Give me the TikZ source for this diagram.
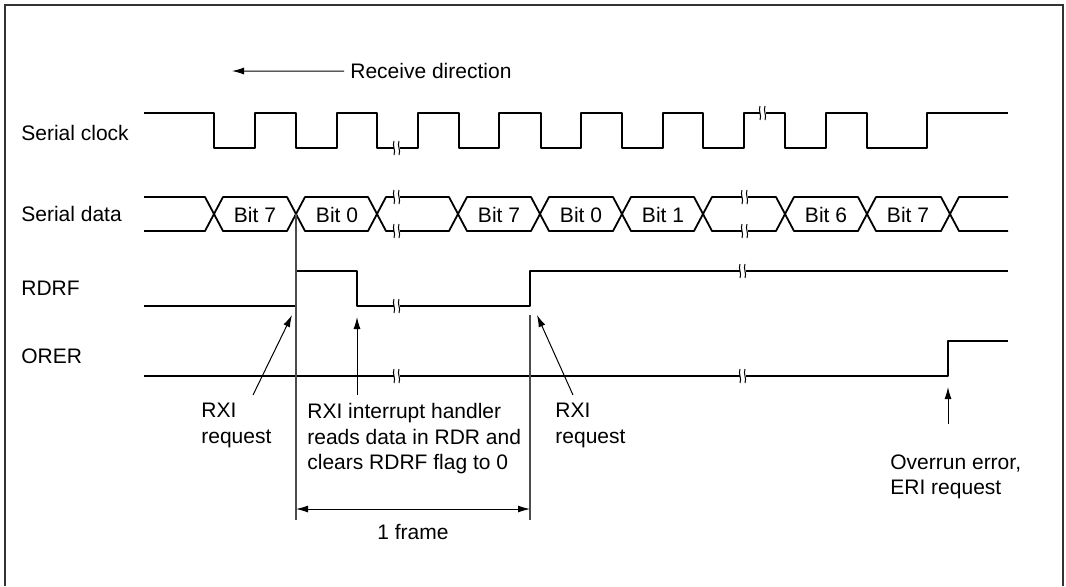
\documentclass[tikz,border=0pt]{standalone}
\usepackage{fontspec}
\setmainfont{Liberation Sans}
\usetikzlibrary{arrows.meta}

\tikzset{
  sig/.style={line width=0.9pt, line join=round},
  guide/.style={line width=0.6pt, black!70},
  note/.style={line width=0.5pt, -{Latex[length=6pt,width=3.5pt]}},
  lbl/.style={inner sep=0pt, anchor=base west},
  notetext/.style={inner sep=0pt, anchor=north west, align=left},
  brk/.pic={
    \fill[white] (-3,-3) rectangle (3,3);
    \draw[line width=0.5pt] (-3,-7) .. controls (-5,-2) and (-1,2) .. (-3,7);
    \draw[line width=0.5pt] (2,-7) .. controls (0,-2) and (4,2) .. (2,7);
  }
}

\begin{document}
\begin{tikzpicture}[x=0.5pt,y=-0.5pt,font=\fontsize{10.5}{12.8}\selectfont]
\useasboundingbox (0,0) rectangle (1066,586);
\draw[line width=1pt, black!80] (5,586) -- (5,5) -- (1063,5) -- (1063,586);

\node[lbl] (dirTxt) at (350,78.5) {Receive direction};
\coordinate (dirTip) at (232,71);
\draw[note] ([xshift=-3pt]dirTxt.west) -- (dirTip);

\node[lbl] (clkTxt) at (21,140) {Serial clock};
\node[lbl] (dataTxt) at (21,221.5) {Serial data};
\node[lbl] (rdrfTxt) at (21,295) {RDRF};
\node[lbl] (orerTxt) at (21,363) {ORER};

\draw[sig] (144,113) -| (214,148) -| (255,113) -| (296,148) -| (337,113) -| (377,148)
  -| (418,113) -| (459,148) -| (499,113) -| (541,148) -| (581,113) -| (622,148)
  -| (663,113) -| (703,148) -| (744,113) -| (785,148) -| (826,113) -| (867,148)
  -| (927,113) -- (1008,113);
\pic at (397,148) {brk};
\pic at (763,113) {brk};

\draw[sig] (144,197) -- (205,197) -- (214,214) -- (205,231) -- (144,231);
\foreach \a/\b in {214/296,296/377,377/458,458/540,540/622,622/703,703/785,785/867,867/950}
  \draw[sig] (\a,214) -- (\a+9,197) -- (\b-9,197) -- (\b,214) -- (\b-9,231) -- (\a+9,231) -- cycle;
\draw[sig] (1008,197) -- (959,197) -- (950,214) -- (959,231) -- (1008,231);
\foreach \x/\t [count=\i] in {255/Bit 7,337/Bit 0,499/Bit 7,581/Bit 0,663/Bit 1,826/Bit 6,908/Bit 7}
  \node[inner sep=0pt, anchor=base] (bit\i) at (\x,222) {\t};
\pic at (397,197) {brk};
\pic at (397,231) {brk};
\pic at (745,197) {brk};
\pic at (745,231) {brk};

\draw[sig] (144,306) -| (296,271) -| (357,306) -| (530,271) -- (1008,271);
\pic at (397,306) {brk};
\pic at (743,271) {brk};

\draw[sig] (144,376) -| (948,341) -- (1008,341);
\pic at (397,376) {brk};
\pic at (743,376) {brk};

\draw[guide] (296,214) -- (296,520);
\draw[guide] (530,315) -- (530,520);

\node[notetext] (rxiA) at (201,403) {RXI\\request};
\node[notetext] (rxiH) at (307,403) {RXI interrupt handler\\reads data in RDR and\\clears RDRF flag to 0};
\node[notetext] (rxiB) at (555,403) {RXI\\request};
\node[notetext] (ovr) at (890,454) {Overrun error,\\ERI request};

\coordinate (tipA) at (292,315);
\coordinate (tailA) at (253,395);
\coordinate (tipH) at (357,317);
\coordinate (tailH) at (357,395);
\coordinate (tipB) at (537,315);
\coordinate (tailB) at (573,395);
\coordinate (tipO) at (948,387);
\coordinate (tailO) at (948,424);
\draw[note] (tailA) -- (tipA);
\draw[note] (tailH) -- (tipH);
\draw[note] (tailB) -- (tipB);
\draw[note] (tailO) -- (tipO);

\coordinate (fL) at (296,509);
\coordinate (fR) at (530,509);
\draw[line width=0.5pt, {Latex[length=6pt,width=3.5pt]}-{Latex[length=6pt,width=3.5pt]}] (fL) -- (fR);
\node[inner sep=0pt, anchor=base] (frameTxt) at (413,539) {1 frame};
\end{tikzpicture}
\end{document}
